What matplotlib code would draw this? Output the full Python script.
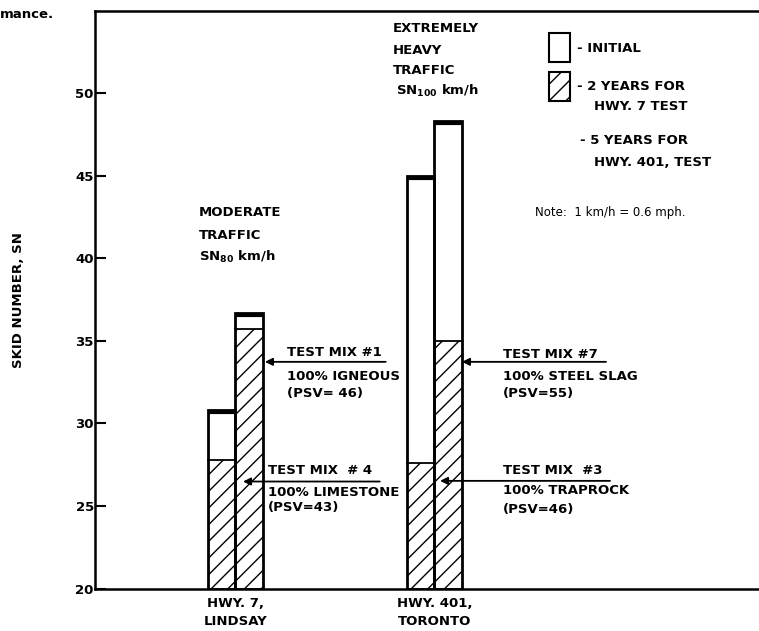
import matplotlib
matplotlib.use("Agg")
import matplotlib.pyplot as plt
import numpy as np

plt.rcParams['font.family'] = ['DejaVu Sans']
plt.rcParams['mathtext.default'] = 'bf'
plt.rcParams['hatch.linewidth'] = 1.0

# ---- data ----
sites = ["HWY. 7,\nLINDSAY", "HWY. 401,\nTORONTO"]
initial_sn = [[30.8, 36.7], [45.0, 48.3]]      # initial skid numbers (bar 1, bar 2)
after_sn = [[27.8, 35.7], [27.6, 35.0]]        # after 2 yrs (Hwy 7) / 5 yrs (Hwy 401)
yticks = [20, 25, 30, 35, 40, 45, 50]

W, H = 759, 631
fig = plt.figure(figsize=(W / 100, H / 100), dpi=100)

def F(x, y):
    return (x / W, 1 - y / H)

ax_l, ax_b, ax_t = 94.5, 588.5, 10.7
ax = fig.add_axes([ax_l / W, 1 - ax_b / H, (W - ax_l) / W, (ax_b - ax_t) / H])
ax.set_ylim(20, 55)
ax.set_xlim(-0.7085, 2.6307)

bw = 0.138
for gi, (ini, aft) in enumerate(zip(initial_sn, after_sn)):
    for bi in range(2):
        x = gi + (bi - 0.5) * bw
        ax.bar(x, aft[bi] - 20, bottom=20, width=bw, facecolor='white',
               edgecolor='black', hatch='//', linewidth=0, zorder=2)
        ax.bar(x, ini[bi] - 20, bottom=20, width=bw, facecolor='none',
               edgecolor='black', linewidth=2.0, zorder=3)
        ax.plot([x - bw / 2, x + bw / 2], [aft[bi], aft[bi]], color='black', lw=1.3, zorder=3)
        ax.plot([x - bw / 2, x + bw / 2], [ini[bi] - 0.12, ini[bi] - 0.12], color='black',
                lw=3.0, zorder=4, solid_capstyle='butt')

ax.spines['right'].set_visible(False)
for s in ['left', 'bottom', 'top']:
    ax.spines[s].set_linewidth(1.8)

ax.set_yticks(yticks)
ax.set_yticklabels([str(v) for v in yticks], fontsize=9.5, fontweight='bold')
ax.tick_params(axis='y', direction='in', length=8, width=1.5, pad=0.5)
ax.set_xticks([0, 1])
ax.set_xticklabels(sites, fontsize=9.5, fontweight='bold', linespacing=1.5)
ax.tick_params(axis='x', length=0, pad=6)

ax.set_ylabel("SKID NUMBER, SN", fontsize=9.5, fontweight='bold', labelpad=36)

tkw = dict(fontsize=9.5, fontweight='bold', va='center', ha='left')
fig.text(*F(0, 15), "mance.", **tkw)

# traffic labels
for txt, y in [("MODERATE", 213), ("TRAFFIC", 235), (r"SN$_{80}$ km/h", 257)]:
    fig.text(*F(199, y), txt, **tkw)
for txt, y in [("EXTREMELY", 29), ("HEAVY", 50), ("TRAFFIC", 70), (r"SN$_{100}$ km/h", 91)]:
    fig.text(*F(393 if y < 90 else 396, y), txt, **tkw)

# legend
from matplotlib.patches import Rectangle
r1 = Rectangle(F(549, 62), 21 / W, 29 / H, transform=fig.transFigure,
               facecolor='white', edgecolor='black', lw=1.5)
r2 = Rectangle(F(549, 101), 21 / W, 29 / H, transform=fig.transFigure,
               facecolor='white', edgecolor='black', lw=1.5, hatch='//')
fig.add_artist(r1)
fig.add_artist(r2)
fig.text(*F(577, 48), "- INITIAL", **tkw)
fig.text(*F(577, 86), "- 2 YEARS FOR", **tkw)
fig.text(*F(594, 107), "HWY. 7 TEST", **tkw)
fig.text(*F(580, 140), "- 5 YEARS FOR", **tkw)
fig.text(*F(594, 162), "HWY. 401, TEST", **tkw)
fig.text(*F(535, 213), "Note:  1 km/h = 0.6 mph.", fontsize=8.5, va='center', ha='left')

# annotations with arrows (arrow tip in data coords)
akw = dict(arrowstyle='-|>', color='black', lw=1.3, mutation_scale=11, shrinkA=0, shrinkB=0)
arrows = [  # (tip_x, tail_x, y)
    (0.148, 0.755, 33.73),
    (0.038, 0.725, 26.48),
    (1.138, 1.862, 33.73),
    (1.028, 1.882, 26.52),
]
for tx, sx, y in arrows:
    ax.annotate("", xy=(tx, y), xytext=(sx, y), arrowprops=akw, annotation_clip=False, zorder=6)

blocks = [
    (287, [("TEST MIX #1", 352), ("100% IGNEOUS", 377), ("(PSV= 46)", 393)]),
    (268, [("TEST MIX  # 4", 471), ("100% LIMESTONE", 492), ("(PSV=43)", 507)]),
    (503, [("TEST MIX #7", 354), ("100% STEEL SLAG", 377), ("(PSV=55)", 393)]),
    (503, [("TEST MIX  #3", 471), ("100% TRAPROCK", 491), ("(PSV=46)", 509)]),
]
for x, lines in blocks:
    for txt, y in lines:
        fig.text(*F(x, y), txt, **tkw)

fig.savefig("out.png", dpi=100, facecolor='white')
